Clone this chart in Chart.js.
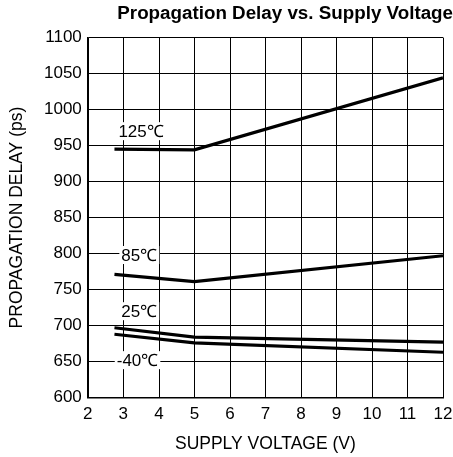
<!DOCTYPE html>
<html>
<head>
<meta charset="utf-8">
<script src="https://cdn.jsdelivr.net/npm/chart.js@4"></script>
<style>
  body { margin: 0; background: #fff; }
  #wrap { width: 453px; height: 457px; }
</style>
</head>
<body>
<div id="wrap"><canvas id="delay-chart"></canvas></div>
<script>
// supply voltage points (V)
var voltage = [2.75, 5, 12];
// propagation delay (ps) per temperature
var delay125 = [945, 944, 1044];
var delay85 = [771, 761, 797];
var delay25 = [697, 684, 677];
var delayM40 = [688, 676, 663];
var seriesNames = ["125℃", "85℃", "25℃", "-40℃"];
// where each curve's label sits (x, y in data units)
var labelX = [3.5, 3.45, 3.45, 3.4];
var labelY = [970, 798, 720, 652];
var xTickStep = 1;
var yTickStep = 50;

window.onload = main;

function pts(ys) {
    return voltage.map(function (v, i) { return { x: v, y: ys[i] }; });
}

function main() {
    var font = "'Liberation Sans', Arial, sans-serif";
    var allSeries = [delay125, delay85, delay25, delayM40];

    // vertical grid lines, one per x tick
    var vGridPlugin = {
        id: "vGrid",
        beforeDatasetsDraw: function (chart) {
            var ctx = chart.ctx, area = chart.chartArea, xs = chart.scales.x;
            ctx.save();
            ctx.strokeStyle = "#000";
            ctx.lineWidth = 1;
            xs.ticks.forEach(function (t) {
                var px = Math.round(xs.getPixelForValue(t.value)) + 0.5;
                ctx.beginPath();
                ctx.moveTo(px, area.top);
                ctx.lineTo(px, area.bottom);
                ctx.stroke();
            });
            ctx.restore();
        }
    };

    var labelPlugin = {
        id: "curveLabels",
        afterDatasetsDraw: function (chart) {
            var ctx = chart.ctx;
            var xs = chart.scales.x, ys = chart.scales.y;
            ctx.save();
            ctx.font = "17px " + font;
            ctx.textAlign = "center";
            ctx.textBaseline = "middle";
            seriesNames.forEach(function (name, i) {
                var px = xs.getPixelForValue(labelX[i]);
                var py = ys.getPixelForValue(labelY[i]);
                var w = ctx.measureText(name).width;
                ctx.fillStyle = "#fff";
                ctx.fillRect(px - w / 2 - 2, py - 9, w + 4, 18);
                ctx.fillStyle = "#000";
                ctx.fillText(name, px, py + 1);
            });
            ctx.restore();
        }
    };

    new Chart(document.getElementById("delay-chart"), {
        type: "scatter",
        data: {
            datasets: allSeries.map(function (s, i) {
                return {
                    label: seriesNames[i],
                    data: pts(s),
                    showLine: true,
                    borderColor: "#000",
                    borderWidth: 3.2,
                    pointRadius: 0,
                    tension: 0
                };
            })
        },
        options: {
            responsive: true,
            maintainAspectRatio: false,
            animation: false,
            layout: { padding: { top: 0, right: 0, left: 7, bottom: 2 } },
            plugins: {
                legend: { display: false },
                tooltip: { enabled: false },
                title: {
                    display: true,
                    text: "Propagation Delay vs. Supply Voltage",
                    align: "end",
                    color: "#000",
                    font: { family: font, size: 18.8, weight: "bold" },
                    padding: { top: 3, bottom: 12 }
                }
            },
            scales: {
                x: {
                    type: "linear",
                    min: 2,
                    max: 12,
                    afterFit: function (s) { s.paddingRight = 10; },
                    grid: { display: false, drawTicks: false, tickLength: 0 },
                    border: { display: true, color: "#000", width: 1.5 },
                    ticks: {
                        stepSize: xTickStep,
                        color: "#000",
                        font: { family: font, size: 17 },
                        padding: 7,
                        maxRotation: 0,
                        autoSkip: false,
                        callback: function (v) { return String(v); }
                    },
                    title: {
                        display: true,
                        text: "SUPPLY VOLTAGE (V)",
                        color: "#000",
                        font: { family: font, size: 17.5 },
                        padding: { top: 2, bottom: 0 }
                    }
                },
                y: {
                    type: "linear",
                    min: 600,
                    max: 1100,
                    grid: { color: "#000", lineWidth: 1, drawTicks: false },
                    border: { color: "#000", width: 1.5 },
                    ticks: {
                        stepSize: yTickStep,
                        color: "#000",
                        font: { family: font, size: 17 },
                        padding: 6,
                        autoSkip: false,
                        callback: function (v) { return String(v); }
                    },
                    title: {
                        display: true,
                        text: "PROPAGATION DELAY (ps)",
                        color: "#000",
                        font: { family: font, size: 17.5 },
                        padding: { top: 0, bottom: 10 }
                    }
                }
            }
        },
        plugins: [vGridPlugin, labelPlugin]
    });
}
</script>
</body>
</html>
